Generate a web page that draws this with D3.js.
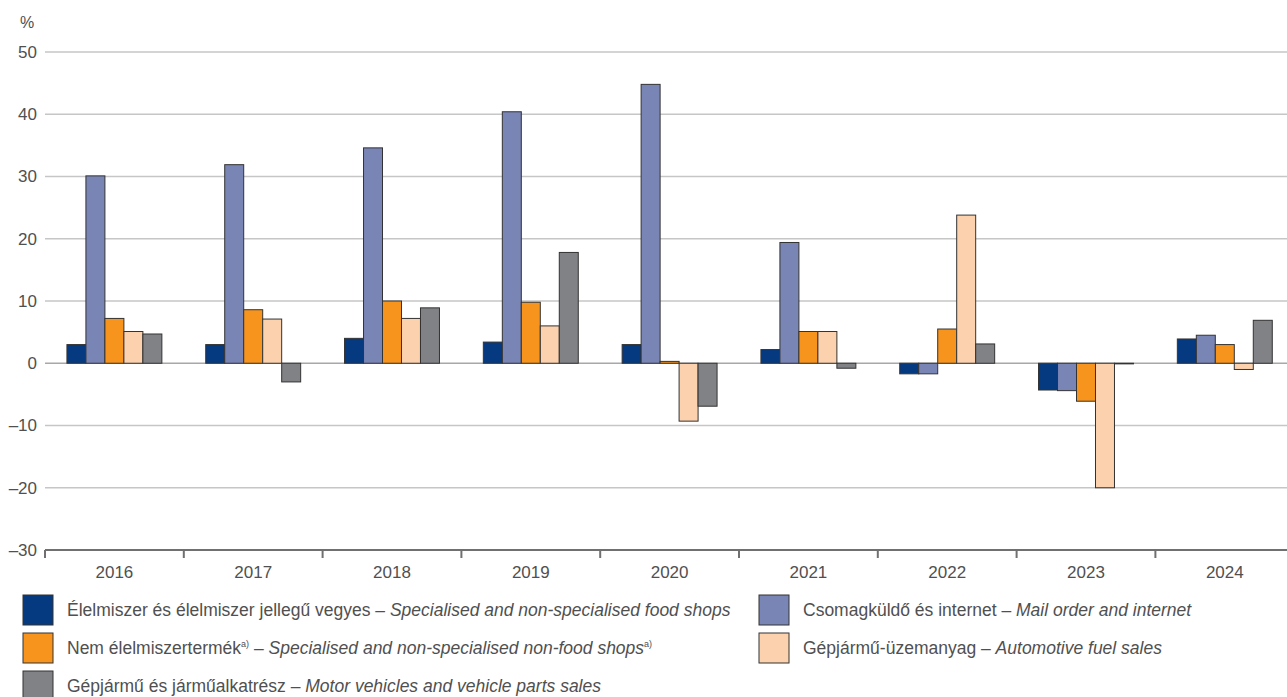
<!DOCTYPE html>
<html><head><meta charset="utf-8">
<script src="https://cdn.jsdelivr.net/npm/d3@7"></script>
<style>
html,body{margin:0;padding:0;background:#fff;}
svg{display:block;font-family:"Liberation Sans",Arial,sans-serif;}
</style></head>
<body>
<svg id="chart" width="1287" height="697"></svg>
<script>
const years = ["2016","2017","2018","2019","2020","2021","2022","2023","2024"];
const seriesKeys = ["food","mail","nonfood","fuel","motor"];
const food    = [3.0, 3.0, 4.0, 3.4, 3.0, 2.2, -1.7, -4.3, 3.9];
const mail    = [30.1, 31.9, 34.6, 40.4, 44.8, 19.4, -1.7, -4.4, 4.5];
const nonfood = [7.2, 8.6, 10.0, 9.8, 0.3, 5.1, 5.5, -6.1, 3.0];
const fuel    = [5.1, 7.1, 7.2, 6.0, -9.3, 5.1, 23.8, -20.0, -1.0];
const motor   = [4.7, -3.0, 8.9, 17.8, -6.9, -0.8, 3.1, -0.1, 6.9];
const yTicks  = [50, 40, 30, 20, 10, 0, -10, -20, -30];
const colors  = ["#063a80", "#7985b5", "#f7941e", "#fcd1ad", "#818286"];
const legendHu = ["Élelmiszer és élelmiszer jellegű vegyes – ", "Csomagküldő és internet – ", "Nem élelmiszertermék", "Gépjármű-üzemanyag – ", "Gépjármű és járműalkatrész – "];
const legendEn = ["Specialised and non-specialised food shops", "Mail order and internet", "Specialised and non-specialised non-food shops", "Automotive fuel sales", "Motor vehicles and vehicle parts sales"];

const values = [food, mail, nonfood, fuel, motor];
const svg = d3.select("#chart");
const W = 1287;
const left = 45, bandW = 138.8;
const x = d3.scaleBand().domain(years).range([left, left + bandW * years.length]).paddingInner(0).paddingOuter(0);
const x1 = d3.scaleBand().domain(seriesKeys).range([x.bandwidth()*0.158, x.bandwidth()*0.842]);
const y = d3.scaleLinear().domain([-30, 50]).range([550, 52]);
const textCol = "#505050";

// grid
svg.append("g").selectAll("line").data(yTicks.filter(t => t !== -30)).join("line")
  .attr("x1", left).attr("x2", W)
  .attr("y1", d => y(d)).attr("y2", d => y(d))
  .attr("stroke", d => d === 0 ? "#a8a8a8" : "#c6c6c6").attr("stroke-width", 1.5);

// y labels
svg.append("g").selectAll("text").data(yTicks).join("text")
  .attr("x", 37).attr("y", d => y(d)).attr("dy", "0.35em")
  .attr("text-anchor", "end").attr("font-size", 17).attr("fill", textCol)
  .text(d => d < 0 ? "–" + Math.abs(d) : d);
svg.append("text").attr("x", 20).attr("y", 28).attr("font-size", 16).attr("fill", textCol).text("%");

// bars
const g = svg.append("g").selectAll("g").data(years).join("g")
  .attr("transform", d => `translate(${x(d)},0)`);
g.selectAll("rect").data((yr, i) => seriesKeys.map((k, s) => ({k, s, v: values[s][i]}))).join("rect")
  .attr("x", d => x1(d.k)).attr("width", x1.bandwidth())
  .attr("y", d => y(Math.max(0, d.v))).attr("height", d => Math.abs(y(d.v) - y(0)))
  .attr("fill", d => colors[d.s]).attr("stroke", "#333").attr("stroke-width", 1);

// bottom axis
const xAxis = svg.append("g");
xAxis.append("line").attr("x1", left).attr("x2", W).attr("y1", y(-30)).attr("y2", y(-30))
  .attr("stroke", "#707070").attr("stroke-width", 2);
xAxis.selectAll("line.tick").data(years).join("line").attr("class", "tick")
  .attr("x1", d => x(d)).attr("x2", d => x(d)).attr("y1", y(-30)).attr("y2", y(-30) + 8)
  .attr("stroke", "#707070").attr("stroke-width", 2);
xAxis.selectAll("text").data(years).join("text")
  .attr("x", d => x(d) + x.bandwidth()/2).attr("y", 578)
  .attr("text-anchor", "middle").attr("font-size", 17).attr("fill", textCol).text(d => d);

// legend
const legPos = [[23, 595], [759, 595], [23, 633], [759, 633], [23, 671]];
const leg = svg.append("g").selectAll("g").data(seriesKeys).join("g")
  .attr("transform", (d, i) => `translate(${legPos[i][0]},${legPos[i][1]})`);
leg.append("rect").attr("width", 30).attr("height", 30)
  .attr("fill", (d, i) => colors[i]).attr("stroke", "#333").attr("stroke-width", 1);
leg.each(function(d, i) {
  const t = d3.select(this).append("text").attr("x", 44).attr("y", 21)
    .attr("font-size", 17.5).attr("fill", textCol);
  t.append("tspan").text(legendHu[i]);
  if (i === 2) {
    t.append("tspan").attr("font-size", 9).attr("dy", -7).text("a)");
    t.append("tspan").attr("dy", 7).text(" – ");
  }
  t.append("tspan").attr("font-style", "italic").text(legendEn[i]);
  if (i === 2) t.append("tspan").attr("font-size", 9).attr("dy", -7).text("a)");
});
</script>
</body></html>
